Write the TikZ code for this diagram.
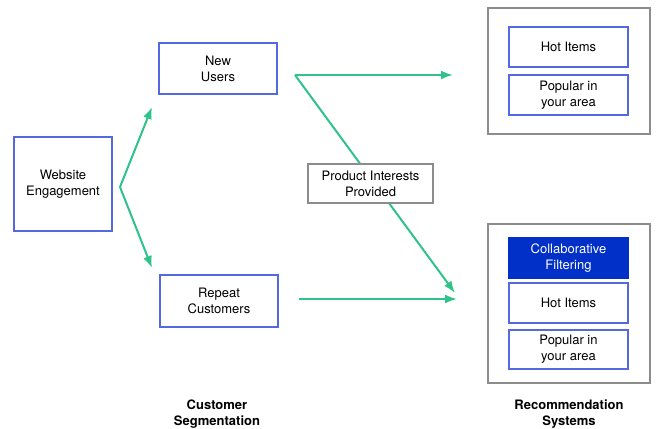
\documentclass[tikz,border=0pt]{standalone}
\usepackage{fontspec}
\setmainfont{TeX Gyre Heros}
\usetikzlibrary{arrows.meta, positioning}
\definecolor{boxblue}{HTML}{5468E0}
\definecolor{fillblue}{HTML}{0030C8}
\definecolor{flowgreen}{HTML}{2FC28A}
\definecolor{framegray}{HTML}{8C8C8C}

\begin{document}
\begin{tikzpicture}[x=1pt, y=-1pt, font=\fontsize{13}{16}\selectfont]
                    \tikzstyle{seg} = [draw=boxblue, line width=1.2pt, rectangle, align=center, inner sep=0pt, minimum width=118pt, minimum height=51pt]
                    \tikzstyle{rec} = [seg, minimum width=119pt, minimum height=40pt]
                    \tikzstyle{frame} = [draw=framegray, line width=1.2pt, rectangle, minimum width=162pt]
                    \tikzstyle{flow} = [draw=flowgreen, line width=2pt, -{Latex[length=12pt, width=9pt]}]
                    \tikzstyle{caption} = [align=center, font=\fontsize{13}{16}\selectfont\bfseries]
                    \useasboundingbox (0,0) rectangle (657,429);

                    % free ends of the connectors
                    \coordinate (fork) at (120, 187);
                    \coordinate (newtip) at (152, 107);
                    \coordinate (reptip) at (152, 268);
                    \coordinate (split) at (295, 75);
                    \coordinate (toptip) at (453, 75);
                    \coordinate (crosstip) at (455, 293);
                    \coordinate (repout) at (299, 299);
                    \coordinate (bottip) at (457, 299);

                    \draw[flow] (fork) -- (newtip);
                    \draw[flow] (fork) -- (reptip);
                    \draw[flow] (split) -- (toptip);
                    \draw[flow] (split) -- (crosstip);
                    \draw[flow] (repout) -- (bottip);

                    \node[seg, minimum width=98pt, minimum height=94pt] (web) at (63, 184) {Website\\Engagement};
                    \node[seg] (new) at (218, 68.5) {New\\Users};
                    \node[seg, minimum height=52pt] (repeat) at (219, 301) {Repeat\\Customers};
                    \node[draw=framegray, line width=1.2pt, fill=white, align=center, minimum width=125pt, minimum height=39pt, inner sep=0pt] (interests) at (370.5, 183.5) {Product Interests\\Provided};

                    \node[frame, minimum height=126pt] (topsys) at (569, 71) {};
                    \node[rec] (hottop) at (568.5, 47) {Hot Items};
                    \node[rec] (poptop) at (568.5, 95) {Popular in\\your area};

                    \node[frame, minimum height=159pt] (botsys) at (569, 303.5) {};
                    \node[rec, fill=fillblue, draw=fillblue, text=white] (collab) at (568.5, 258) {Collaborative\\Filtering};
                    \node[rec] (hotbot) at (568.5, 303) {Hot Items};
                    \node[rec, minimum height=39pt] (popbot) at (568.5, 349.5) {Popular in\\your area};

                    \node[caption] (segcap) at (217, 414) {Customer\\Segmentation};
                    \node[caption] (syscap) at (569, 414) {Recommendation\\Systems};
                \end{tikzpicture}
\end{document}
